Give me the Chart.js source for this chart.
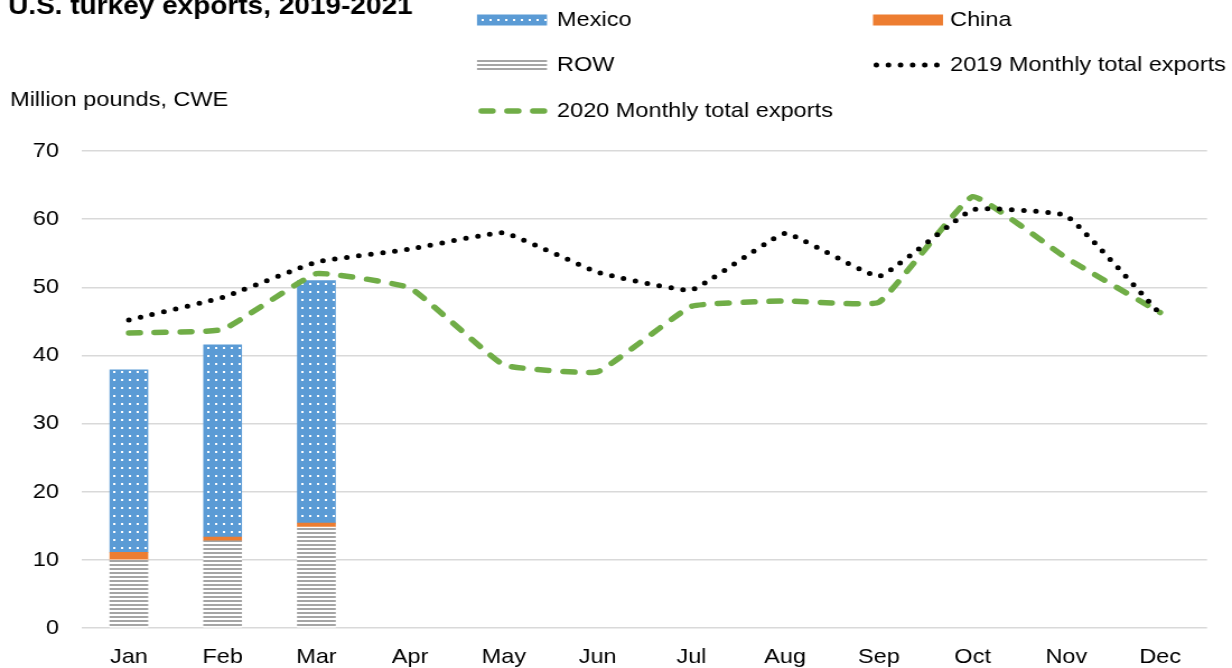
<!DOCTYPE html>
<html>
<head>
<meta charset="utf-8">
<script src="https://cdn.jsdelivr.net/npm/chart.js@4.4.1/dist/chart.umd.min.js"></script>
<style>
  html, body { margin:0; padding:0; background:#fff; overflow:hidden; }
  #wrap { width:1100px; height:668px; transform-origin:0 0; }
</style>
</head>
<body>
<div id="wrap"><canvas id="chart" width="1100" height="668"></canvas></div>
<script>
// ================= DATA ==================
const MONTHS = ["Jan","Feb","Mar","Apr","May","Jun","Jul","Aug","Sep","Oct","Nov","Dec"];
const ROW_VALUES    = [10.0, 12.8, 14.8, null, null, null, null, null, null, null, null, null];
const CHINA_VALUES  = [1.1, 0.55, 0.6, null, null, null, null, null, null, null, null, null];
const MEXICO_VALUES = [26.8, 28.2, 35.6, null, null, null, null, null, null, null, null, null];
const EXPORTS_2019  = [45.2, 48.5, 53.7, 55.6, 58.0, 52.2, 49.6, 57.9, 51.6, 61.4, 60.5, 46.1];
const EXPORTS_2020  = [43.3, 43.8, 52.0, 49.9, 38.6, 37.6, 47.2, 48.0, 47.8, 63.3, 54.3, 46.3];

const TITLE = "U.S. turkey exports, 2019-2021";
const Y_LABEL = "Million pounds, CWE";

// ================= LAYOUT ==================
const SX = 1.12;              // picture is stretched horizontally
const W = 1100;
const FONT = "Arial, 'Liberation Sans', sans-serif";
const FS = 21;
const px = (x) => x / SX;     // scaled picture x -> canvas x

document.getElementById("wrap").style.transform = `scaleX(${1232 / W})`;

// ================= PATTERNS ==================
function dotPattern(){
  const c = document.createElement("canvas");
  c.width = 7; c.height = 8;
  const g = c.getContext("2d");
  g.fillStyle = "#5b9bd5"; g.fillRect(0,0,7,8);
  g.fillStyle = "#ffffff"; g.fillRect(3,3,2,2);
  return g.createPattern(c, "repeat");
}
function stripePattern(){
  const c = document.createElement("canvas");
  c.width = 4; c.height = 4;
  const g = c.getContext("2d");
  g.fillStyle = "#ffffff"; g.fillRect(0,0,4,4);
  g.fillStyle = "#a5a5a5"; g.fillRect(0,0,4,2);
  return g.createPattern(c, "repeat");
}
const ctx = document.getElementById("chart").getContext("2d");
const MEXICO_FILL = dotPattern();
const ROW_FILL = stripePattern();

// ================= LEGEND + TEXT PLUGIN ==================
const customText = {
  id: "customText",
  afterDraw(chart){
    const c = chart.ctx;
    c.save();
    c.fillStyle = "#000";
    c.textBaseline = "alphabetic";
    c.textAlign = "left";
    c.font = `bold 25px ${FONT}`;
    c.fillText(TITLE, px(8), 14);
    c.font = `${FS}px ${FONT}`;
    c.textBaseline = "middle";
    c.fillText(Y_LABEL, px(10), 100);

    const col1 = [px(477), px(547), px(557)];
    const col2 = [px(873), px(943), px(950)];
    const items = [
      { col: col1, y: 20, kind: "box", fill: MEXICO_FILL, h: 11, text: "Mexico" },
      { col: col2, y: 20, kind: "box", fill: "#ed7d31", h: 11, text: "China" },
      { col: col1, y: 65, kind: "box", fill: ROW_FILL, h: 14, text: "ROW" },
      { col: col2, y: 65, kind: "dots", text: "2019 Monthly total exports" },
      { col: col1, y: 111, kind: "dash", text: "2020 Monthly total exports" },
    ];
    for (const it of items){
      const [x0, x1, tx] = it.col;
      if (it.kind === "box"){
        c.fillStyle = it.fill;
        c.fillRect(x0, it.y - it.h/2, x1 - x0, it.h);
      } else {
        c.beginPath();
        c.lineCap = "round";
        if (it.kind === "dots"){
          c.strokeStyle = "#000"; c.lineWidth = 5; c.setLineDash([0, 10.8]);
          c.moveTo(x0 + 3, it.y); c.lineTo(x1, it.y);
        } else {
          c.strokeStyle = "#70ad47"; c.lineWidth = 5.5; c.setLineDash([10, 13]);
          c.moveTo(x0 + 4, it.y); c.lineTo(x1, it.y);
        }
        c.stroke();
        c.setLineDash([]);
      }
      c.fillStyle = "#000";
      c.font = `${FS}px ${FONT}`;
      c.fillText(it.text, tx, it.y);
    }
    c.restore();
  }
};

// ================= CHART ==================
new Chart(ctx, {
  type: "bar",
  data: {
    labels: MONTHS,
    datasets: [
      { type:"line", label:"2019 Monthly total exports", data:EXPORTS_2019, stack:"l19", order:0,
        borderColor:"#000", borderWidth:5, borderDash:[0, 10.8], borderCapStyle:"round",
        pointRadius:0, tension:0.1, fill:false },
      { type:"line", label:"2020 Monthly total exports", data:EXPORTS_2020, stack:"l20", order:0,
        borderColor:"#70ad47", borderWidth:5.5, borderDash:[10, 13], borderCapStyle:"round",
        pointRadius:0, tension:0.1, fill:false },
      { label:"ROW", data:ROW_VALUES, stack:"bars", order:1, backgroundColor:ROW_FILL, barThickness:px(38) },
      { label:"China", data:CHINA_VALUES, stack:"bars", order:1, backgroundColor:"#ed7d31", barThickness:px(38) },
      { label:"Mexico", data:MEXICO_VALUES, stack:"bars", order:1, backgroundColor:MEXICO_FILL, barThickness:px(38) },
    ]
  },
  options: {
    responsive:false, animation:false, devicePixelRatio:1,
    layout:{ padding:{ top:151, right:W - px(1207), bottom:0, left:0 } },
    plugins:{ legend:{ display:false }, tooltip:{ enabled:false }, title:{ display:false } },
    scales:{
      x:{
        stacked:true,
        grid:{ display:false, drawTicks:false },
        border:{ display:false },
        ticks:{ color:"#000", font:{ family:FONT, size:FS }, padding:17, maxRotation:0 },
        afterFit(s){ s.height = 40; }
      },
      y:{
        stacked:true, min:0, max:70,
        grid:{ color:"#d9d9d9", lineWidth:1.5, drawTicks:false },
        border:{ display:false },
        ticks:{ stepSize:10, color:"#000", font:{ family:FONT, size:FS }, padding:px(82 - 59) },
        afterFit(s){ s.width = px(82); }
      }
    }
  },
  plugins:[customText]
});
</script>
</body>
</html>
